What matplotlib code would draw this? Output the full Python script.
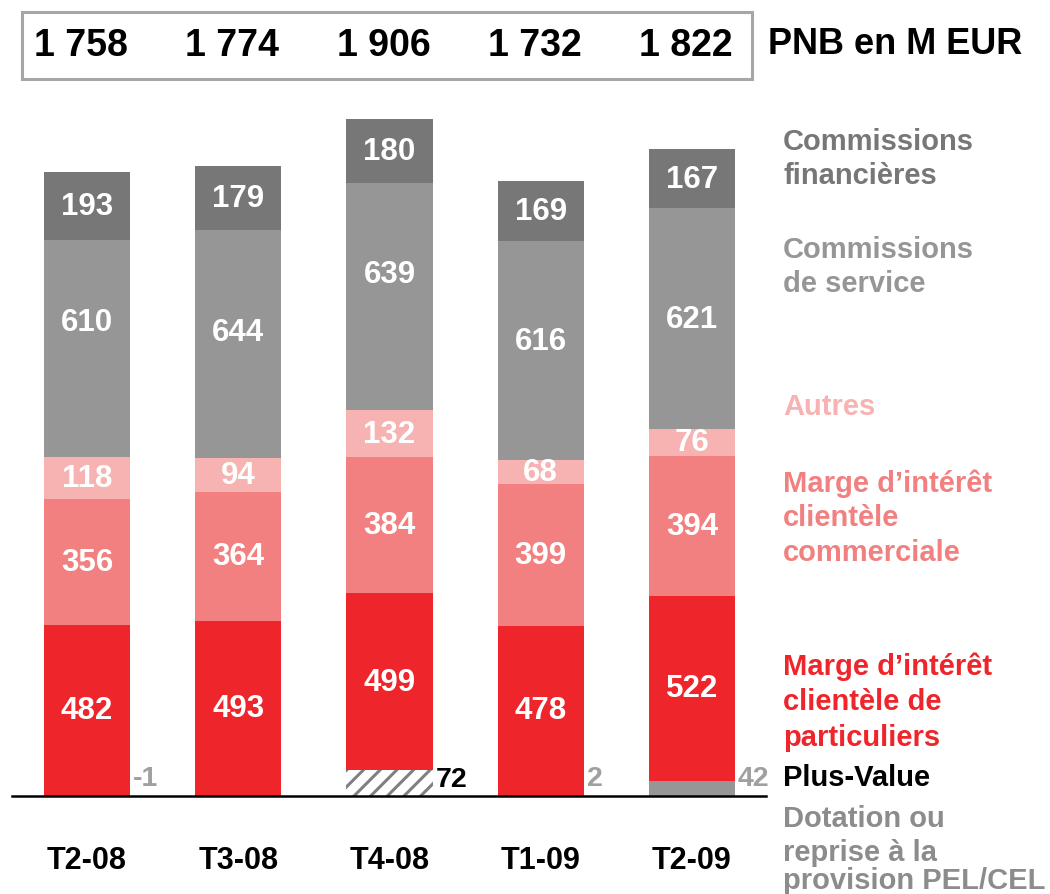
import numpy as np
import matplotlib.pyplot as plt
from matplotlib.patches import Rectangle
from matplotlib.transforms import blended_transform_factory

plt.rcParams['font.family'] = ['Liberation Sans', 'DejaVu Sans']
plt.rcParams['font.weight'] = 'bold'
plt.rcParams['hatch.linewidth'] = 2.2

# data (M EUR)
quarters = ['T2-08', 'T3-08', 'T4-08', 'T1-09', 'T2-09']
pel_cel = np.array([-1, 0, 0, 2, 42])
plus_value = np.array([0, 0, 72, 0, 0])
particuliers = np.array([482, 493, 499, 478, 522])
commerciale = np.array([356, 364, 384, 399, 394])
autres = np.array([118, 94, 132, 68, 76])
com_service = np.array([610, 644, 639, 616, 621])
com_financieres = np.array([193, 179, 180, 169, 167])

totals = pel_cel + plus_value + particuliers + commerciale + autres + com_service + com_financieres

col_fin = '#777777'
col_serv = '#969696'
col_autres = '#f7b2b2'
col_comm = '#f28080'
col_part = '#ee252b'
col_pel = '#969696'

W, H = 1050, 895
fig = plt.figure(figsize=(W / 100, H / 100), dpi=100)
ax = fig.add_axes([12 / W, 98 / H, 754 / W, 710 / H])
ax.set_xlim(-0.496, 4.49)
ax.set_ylim(0, 2000)
for s in ax.spines.values():
    s.set_visible(False)
ax.set_yticks([])

x = np.arange(len(quarters))
w = 0.57

# bottom pieces
ax.bar(x, pel_cel, width=w, color=col_pel, linewidth=0)
bottom = np.clip(pel_cel, 0, None).astype(float)
ax.bar(x, plus_value, width=w, bottom=bottom, color='white', edgecolor='#808080',
       hatch='//', linewidth=0)
bottom += plus_value

# labels in the service segment sit a bit above the middle in the original slide
service_nudge = [19, 9, 16, 7, 0]  # points

segments = [(particuliers, col_part, None), (commerciale, col_comm, None),
            (autres, col_autres, None), (com_service, col_serv, service_nudge),
            (com_financieres, col_fin, None)]
for vals, color, nudge in segments:
    ax.bar(x, vals, width=w, bottom=bottom, color=color, linewidth=0)
    for i, (xi, b, v) in enumerate(zip(x, bottom, vals)):
        dy = nudge[i] if nudge else 0
        ax.annotate(str(v), (xi, b + v / 2), xytext=(0, dy), textcoords='offset points',
                    ha='center', va='center', color='white', fontsize=22.5)
    bottom += vals

# small values next to the bars
for xi, p, pv in zip(x, pel_cel, plus_value):
    if p != 0:
        ax.annotate(str(p), (xi + w / 2, 0), xytext=(2, 13), textcoords='offset points',
                    ha='left', va='center', color='#a0a0a0', fontsize=20.5)
    if pv != 0:
        ax.annotate(str(pv), (xi + w / 2, 0), xytext=(2, 12), textcoords='offset points',
                    ha='left', va='center', color='black', fontsize=20.5)

ax.axhline(0, color='black', lw=1.8, clip_on=False)
ax.set_xticks(x)
ax.set_xticklabels(quarters, fontsize=22)
ax.tick_params(axis='x', length=0, pad=35)

# totals box
fig.patches.append(Rectangle((22 / W, (H - 80) / H), 730 / W, 67 / H, transform=fig.transFigure,
                             fill=False, edgecolor='#a6a6a6', lw=2.2))
tr = blended_transform_factory(ax.transData, fig.transFigure)
for xi, t in zip(x, totals):
    ax.text(xi - 0.04, (H - 46) / H, f'{t:,}'.replace(',', ' '), transform=tr,
            ha='center', va='center', fontsize=27, color='black')
fig.text(768 / W, (H - 44) / H, 'PNB en M EUR', ha='left', va='center', fontsize=26, color='black')

# legend labels
legend = [
    ('Commissions\nfinancières', col_fin, 159, 1.3),
    ('Commissions\nde service', col_serv, 267, 1.3),
    ('Autres', col_autres, 407, 1.3),
    ("Marge d’intérêt\nclientèle\ncommerciale", col_comm, 518, 1.3),
    ("Marge d’intérêt\nclientèle de\nparticuliers", col_part, 702, 1.35),
    ('Plus-Value', 'black', 778, 1.3),
    ('Dotation ou', '#8c8c8c', 819, 1.3),
    ('reprise à la\nprovision PEL/CEL', '#8c8c8c', 867, 1.02),
]
for label, color, ypx, ls in legend:
    fig.text(783 / W, (H - ypx) / H, label, ha='left', va='center', fontsize=21,
             color=color, linespacing=ls)

fig.savefig('out.png', dpi=100)
